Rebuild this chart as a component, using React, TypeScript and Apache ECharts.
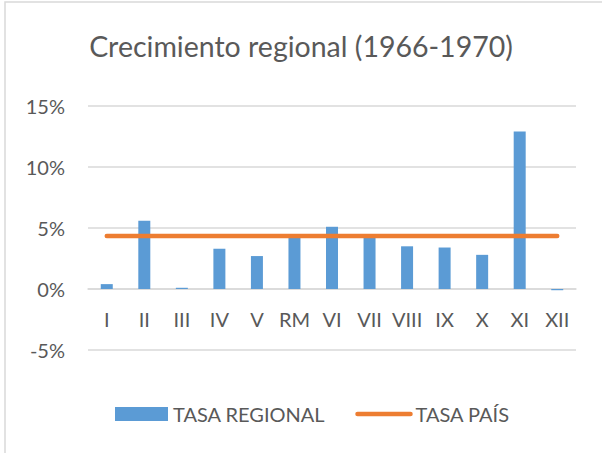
import React, { useEffect, useRef } from "react";
import * as echarts from "echarts";

const categories = ["I", "II", "III", "IV", "V", "RM", "VI", "VII", "VIII", "IX", "X", "XI", "XII"];
const tasaRegional = [0.4, 5.6, 0.1, 3.3, 2.7, 4.2, 5.1, 4.2, 3.5, 3.4, 2.8, 12.9, -0.1];
const tasaPais = [4.35, 4.35, 4.35, 4.35, 4.35, 4.35, 4.35, 4.35, 4.35, 4.35, 4.35, 4.35, 4.35];
const yTicks = { min: -5, max: 15, interval: 5 };

const FONT = "Lato";
const TEXT = "#595959";

export default function App() {
  const ref = useRef<HTMLDivElement>(null);
  useEffect(() => {
    if (!ref.current) return;
    const chart = echarts.init(ref.current, undefined, { renderer: "svg" });
    chart.setOption({
      animation: false,
      backgroundColor: "#ffffff",
      title: {
        text: "Crecimiento regional (1966-1970)",
        left: "center",
        top: 26,
        textStyle: { fontFamily: FONT, fontSize: 28.5, fontWeight: "normal", color: TEXT },
      },
      graphic: [
        {
          type: "rect",
          shape: { x: 5, y: 2, width: 620, height: 480 },
          style: { fill: "none", stroke: "#d9d9d9", lineWidth: 1.5 },
          silent: true,
        },
      ],
      legend: {
        left: 110,
        top: 399,
        itemWidth: 53,
        itemHeight: 14,
        itemGap: 30,
        textStyle: { fontFamily: FONT, fontSize: 20, color: TEXT },
        data: [
          { name: "TASA REGIONAL", icon: "rect" },
          {
            name: "TASA PAÍS",
            itemStyle: { opacity: 0 },
            lineStyle: { width: 4.5, cap: "round", color: "#ed7d31" },
          },
        ],
      },
      grid: { left: 88, right: 26, top: 106, bottom: 103, containLabel: false },
      xAxis: {
        type: "category",
        data: categories,
        offset: -61,
        axisLine: { onZero: false, lineStyle: { color: "#d9d9d9", width: 1.5 } },
        axisTick: { show: false },
        axisLabel: { fontFamily: FONT, fontSize: 20, color: TEXT, margin: 20, interval: 0 },
      },
      yAxis: {
        type: "value",
        min: yTicks.min,
        max: yTicks.max,
        interval: yTicks.interval,
        axisLine: { show: false },
        axisTick: { show: false },
        splitLine: { lineStyle: { color: "#d9d9d9", width: 1.5 } },
        axisLabel: {
          fontFamily: FONT,
          fontSize: 20,
          color: TEXT,
          margin: 23,
          formatter: (v: number) => `${v}%`,
        },
      },
      series: [
        {
          name: "TASA REGIONAL",
          type: "bar",
          data: tasaRegional,
          barWidth: 12,
          itemStyle: { color: "#5b9bd5" },
        },
        {
          name: "TASA PAÍS",
          type: "line",
          data: tasaPais,
          symbol: "none",
          lineStyle: { color: "#ed7d31", width: 4.5, cap: "round" },
          itemStyle: { color: "#ed7d31" },
        },
      ],
    });
    return () => chart.dispose();
  }, []);
  return <div ref={ref} style={{ position: "fixed", left: 0, top: 0, width: 602, height: 453 }} />;
}
